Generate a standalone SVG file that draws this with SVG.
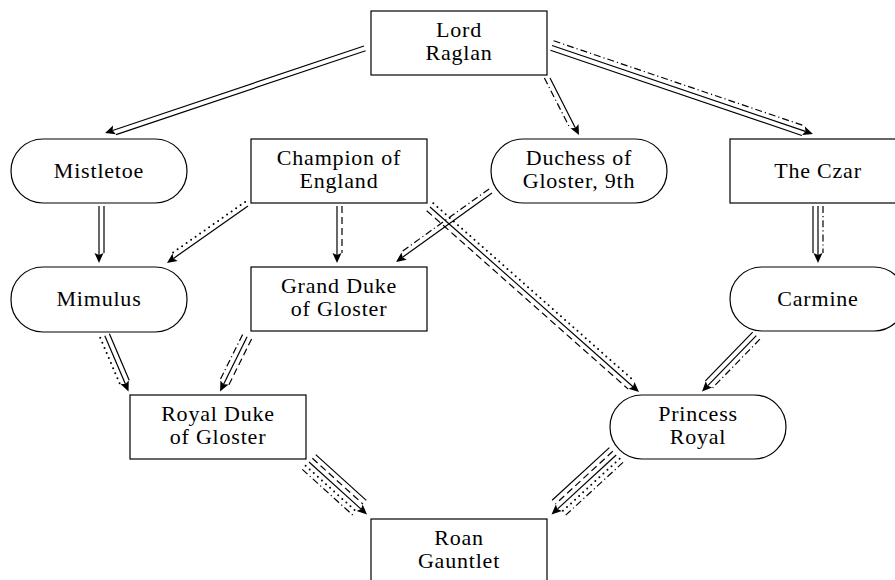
<svg xmlns="http://www.w3.org/2000/svg" width="895" height="580" viewBox="0 0 895 580">
<defs>
<style>
.bg{fill:#fff}
.box{fill:#fff;stroke:#000;stroke-width:1.2}
text{font-family:"Liberation Serif",serif;font-size:22px;letter-spacing:0.8px;text-anchor:middle;fill:#000}
.c{fill:none;stroke:#000;stroke-width:1.2}
.base{marker-end:url(#ah)}
.dash{stroke-dasharray:7 4}
.dot{stroke-width:2;stroke-linecap:round;stroke-dasharray:0 5.5}
.dd{stroke-dasharray:7 3 1.2 3}
</style>
<marker id="ah" markerUnits="userSpaceOnUse" markerWidth="12" markerHeight="10" viewBox="0 0 12 10" refX="2" refY="5" orient="auto" overflow="visible">
<path d="M0,0.5 L10,5 L0,9.5 L2,5 Z" fill="#000"/>
</marker>
</defs>
<rect class="bg" x="0" y="0" width="895" height="580"/>

<g id="connectors">
<line class="c base" x1="364" y1="46" x2="112.6" y2="130.5"/>
<line class="c" x1="365.6" y1="50.7" x2="116.1" y2="134.6"/>
<line class="c base" x1="550" y1="78" x2="575.4" y2="127.9"/>
<line class="c dd" x1="544.4" y1="78.1" x2="570.1" y2="128.4"/>
<line class="c base" x1="552" y1="45.5" x2="805.4" y2="131.4"/>
<line class="c" x1="550.4" y1="50.2" x2="801.9" y2="135.5"/>
<line class="c dd" x1="553.6" y1="40.8" x2="805.1" y2="126.1"/>
<line class="c base" x1="99" y1="206" x2="99" y2="255"/>
<line class="c" x1="104" y1="206" x2="104" y2="253"/>
<line class="c base" x1="248" y1="206" x2="173.5" y2="258.4"/>
<line class="c dot" x1="245.1" y1="201.9" x2="172.3" y2="253.1"/>
<line class="c base" x1="337" y1="206" x2="337" y2="255"/>
<line class="c dash" x1="342" y1="206" x2="342" y2="253"/>
<line class="c base" x1="430" y1="207" x2="633" y2="386.7"/>
<line class="c dot" x1="433.3" y1="203.3" x2="634.8" y2="381.6"/>
<line class="c dash" x1="426.7" y1="210.7" x2="628.2" y2="389.1"/>
<line class="c base" x1="492" y1="193" x2="402.5" y2="257.3"/>
<line class="c dd" x1="489.1" y1="188.9" x2="401.2" y2="252.1"/>
<line class="c base" x1="818" y1="206" x2="818" y2="255"/>
<line class="c" x1="813" y1="206" x2="813" y2="253"/>
<line class="c dd" x1="823" y1="206" x2="823" y2="253"/>
<line class="c base" x1="104.8" y1="335.8" x2="125.4" y2="384.1"/>
<line class="c" x1="109.4" y1="333.8" x2="129.2" y2="380.3"/>
<line class="c dot" x1="100.2" y1="337.8" x2="120" y2="384.3"/>
<line class="c base" x1="247.1" y1="336.8" x2="223.6" y2="384.3"/>
<line class="c dd" x1="242.6" y1="334.6" x2="219.9" y2="380.3"/>
<line class="c dash" x1="251.6" y1="339" x2="228.9" y2="384.7"/>
<line class="c base" x1="756.3" y1="335.7" x2="707.6" y2="385.8"/>
<line class="c" x1="752.7" y1="332.2" x2="705.4" y2="380.8"/>
<line class="c dd" x1="759.9" y1="339.2" x2="712.6" y2="387.8"/>
<line class="c base" x1="309" y1="462" x2="361.1" y2="509.1"/>
<line class="c" x1="315.7" y1="454.6" x2="366.3" y2="500.4"/>
<line class="c dash" x1="312.4" y1="458.3" x2="363" y2="504.1"/>
<line class="c dot" x1="305.6" y1="465.7" x2="356.2" y2="511.5"/>
<line class="c dd" x1="302.3" y1="469.4" x2="352.9" y2="515.2"/>
<line class="c base" x1="616.2" y1="455" x2="557.4" y2="509.1"/>
<line class="c" x1="609.4" y1="447.6" x2="552.1" y2="500.3"/>
<line class="c dash" x1="612.8" y1="451.3" x2="555.5" y2="504"/>
<line class="c dot" x1="619.6" y1="458.7" x2="562.3" y2="511.4"/>
<line class="c dd" x1="623" y1="462.4" x2="565.7" y2="515.1"/>
</g>

<g id="lord-raglan">
<rect class="box" x="371" y="11" width="176" height="64"/>
<text x="459" y="37" font-family="Liberation Serif">Lord</text>
<text x="459" y="60" font-family="Liberation Serif">Raglan</text>
</g>
<g id="mistletoe">
<rect class="box" x="11" y="139" width="176" height="64" rx="32" ry="32"/>
<text x="99" y="177.5" font-family="Liberation Serif">Mistletoe</text>
</g>
<g id="champion-of-england">
<rect class="box" x="251" y="139" width="176" height="64"/>
<text x="339" y="165" font-family="Liberation Serif">Champion of</text>
<text x="339" y="188" font-family="Liberation Serif">England</text>
</g>
<g id="duchess-of-gloster">
<rect class="box" x="491" y="139" width="176" height="64" rx="32" ry="32"/>
<text x="579" y="165" font-family="Liberation Serif">Duchess of</text>
<text x="579" y="188" font-family="Liberation Serif">Gloster, 9th</text>
</g>
<g id="the-czar">
<rect class="box" x="730" y="139" width="176" height="64"/>
<text x="818" y="177.5" font-family="Liberation Serif">The Czar</text>
</g>
<g id="mimulus">
<rect class="box" x="11" y="267" width="176" height="65" rx="32" ry="32"/>
<text x="99" y="306" font-family="Liberation Serif">Mimulus</text>
</g>
<g id="grand-duke-of-gloster">
<rect class="box" x="251" y="267" width="176" height="64"/>
<text x="339" y="293" font-family="Liberation Serif">Grand Duke</text>
<text x="339" y="316" font-family="Liberation Serif">of Gloster</text>
</g>
<g id="carmine">
<rect class="box" x="730" y="267" width="176" height="64" rx="32" ry="32"/>
<text x="818" y="305.5" font-family="Liberation Serif">Carmine</text>
</g>
<g id="royal-duke-of-gloster">
<rect class="box" x="130" y="395" width="176" height="64"/>
<text x="218" y="421" font-family="Liberation Serif">Royal Duke</text>
<text x="218" y="444" font-family="Liberation Serif">of Gloster</text>
</g>
<g id="princess-royal">
<rect class="box" x="610" y="395" width="176" height="64" rx="32" ry="32"/>
<text x="698" y="421" font-family="Liberation Serif">Princess</text>
<text x="698" y="444" font-family="Liberation Serif">Royal</text>
</g>
<g id="roan-gauntlet">
<rect class="box" x="371" y="519" width="176" height="64"/>
<text x="459" y="545" font-family="Liberation Serif">Roan</text>
<text x="459" y="568" font-family="Liberation Serif">Gauntlet</text>
</g>
</svg>
